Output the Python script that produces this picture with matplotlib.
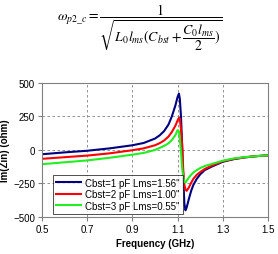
import matplotlib
matplotlib.use('Agg')
import matplotlib.pyplot as plt

plt.rcParams['font.family'] = ['Liberation Sans', 'DejaVu Sans']
plt.rcParams['mathtext.fontset'] = 'stix'

# data
freq = [0.5, 0.6, 0.7, 0.8, 0.9, 0.95, 1.0, 1.02, 1.04, 1.06, 1.075, 1.09, 1.1, 1.106,
        1.11, 1.115, 1.12, 1.125, 1.13, 1.135, 1.14, 1.15, 1.16, 1.17, 1.185, 1.2,
        1.22, 1.25, 1.3, 1.35, 1.4, 1.45, 1.5]
im_c1 = [-32, -18, -6, 12, 35, 52, 85, 108, 140, 190, 252, 330, 395, 420,
         380, 250, 40, -210, -400, -450, -430, -365, -305, -260, -215, -182,
         -150, -125, -88, -68, -55, -46, -40]
im_c2 = [-66, -54, -42, -25, -2, 12, 35, 50, 70, 100, 135, 180, 220, 240,
         235, 150, 40, -150, -260, -295, -305, -280, -245, -215, -185, -165,
         -142, -118, -84, -66, -54, -46, -40]
im_c3 = [-106, -92, -78, -58, -35, -22, 0, 15, 30, 50, 75, 110, 148, 140,
         80, -10, -130, -200, -238, -243, -230, -205, -185, -168, -150, -135,
         -120, -105, -80, -63, -53, -46, -40]
labels = ['Cbst=1 pF Lms=1.56"', 'Cbst=2 pF Lms=1.00"', 'Cbst=3 pF Lms=0.55"']
colors = ['#000080', '#ff0000', '#22ee22']

fig = plt.figure(figsize=(2.78, 2.55), dpi=100)
ax = fig.add_axes([0.151, 0.145, 0.813, 0.526])

for y, lab, c in zip([im_c1, im_c2, im_c3], labels, colors):
    ax.plot(freq, y, color=c, lw=1.5, label=lab)

ax.set_xlim(0.5, 1.5)
ax.set_ylim(-500, 500)
ax.set_xticks([0.5, 0.7, 0.9, 1.1, 1.3, 1.5])
ax.set_xticklabels(['0.5', '0.7', '0.9', '1.1', '1.3', '1.5'])
ax.set_yticks([-500, -250, 0, 250, 500])
ax.tick_params(labelsize=7, length=3, color='#808080', pad=2)
ax.grid(True, color='#808080', linestyle=(0, (3, 3)), lw=0.6)
for s in ax.spines.values():
    s.set_color('#808080')
ax.set_xlabel('Frequency (GHz)', fontsize=7, fontweight='bold', labelpad=3)
ax.set_ylabel('Im(Zin) (ohm)', fontsize=7, fontweight='bold', labelpad=2)

leg = ax.legend(loc='lower left', bbox_to_anchor=(0.05, 0.025), fontsize=7,
                frameon=True, fancybox=False, handlelength=2.6, handletextpad=0.4,
                borderpad=0.3, labelspacing=0.15, borderaxespad=0)
leg.get_frame().set_edgecolor('black')
leg.get_frame().set_linewidth(0.6)

fig.text(0.502, 0.893,
         r'$\omega_{p2\_c} = \dfrac{1}{\sqrt{L_0 l_{ms}(C_{bst} + \dfrac{C_0 l_{ms}}{2})}}$',
         ha='center', va='center', fontsize=10)

fig.savefig('out.png', dpi=100)
